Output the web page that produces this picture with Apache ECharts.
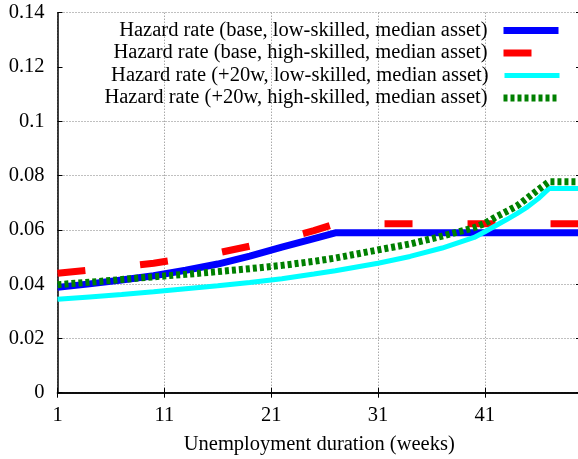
<!DOCTYPE html>
<html>
<head>
<meta charset="utf-8">
<script src="https://cdn.jsdelivr.net/npm/echarts@6/dist/echarts.min.js"></script>
<style>
  html, body { margin: 0; padding: 0; background: #fff; }
  #main { width: 578px; height: 459px; }
</style>
</head>
<body>
<div id="main"></div>
<script>
var weeks = [1, 4, 7, 10, 13, 16, 19, 22, 25, 27, 31, 34, 37, 40, 41, 42, 43, 44, 45, 46, 47, 50];

var baseLow = [0.0388, 0.0401, 0.0415, 0.0431, 0.0451, 0.0474, 0.0503, 0.0536, 0.0568, 0.0589,
  0.0589, 0.0589, 0.0589, 0.0589, 0.0589, 0.0589, 0.0589, 0.0589, 0.0589, 0.0589, 0.0589, 0.0589];
var baseHigh = [0.0440, 0.0452, 0.0464, 0.0477, 0.0495, 0.0515, 0.0540, 0.0566, 0.0597, 0.0622,
  0.0622, 0.0622, 0.0622, 0.0622, 0.0622, 0.0622, 0.0622, 0.0622, 0.0622, 0.0622, 0.0622, 0.0622];
var extLow = [0.0344, 0.0353, 0.0362, 0.0372, 0.0383, 0.0394, 0.0406, 0.0420, 0.0437, 0.0449,
  0.0477, 0.0502, 0.0533, 0.0572, 0.0593, 0.0615, 0.0637, 0.0660, 0.0685, 0.0715, 0.0752, 0.0752];
var extHigh = [0.0398, 0.0407, 0.0417, 0.0427, 0.0436, 0.0446, 0.0457, 0.0469, 0.0484, 0.0496,
  0.0526, 0.0548, 0.0577, 0.0608, 0.0624, 0.0647, 0.0667, 0.0688, 0.0718, 0.0748, 0.0777, 0.0777];

var names = [
  "Hazard rate (base, low-skilled, median asset)",
  "Hazard rate (base, high-skilled, median asset)",
  "Hazard rate (+20w, low-skilled, median asset)",
  "Hazard rate (+20w, high-skilled, median asset)"
];

var font = "Liberation Serif";
var fontSize = 20.5;

function pairs(vals) {
  return weeks.map(function (w, i) { return [w, vals[i]]; });
}

var styles = [
  { color: "#0000ff", width: 7, type: "solid" },
  { color: "#ff0000", width: 7, type: [28, 55] },
  { color: "#00ffff", width: 5, type: "solid" },
  { color: "#008000", width: 7, type: [4, 3] }
];
var rowCenters = [30, 52.5, 75, 97.5];

var myChart = echarts.init(document.getElementById("main"));

var legends = names.map(function (n, i) {
  return {
    data: [n],
    right: 16,
    top: rowCenters[i] - 10,
    padding: 0,
    align: "right",
    itemWidth: 55,
    itemHeight: 14,
    selectedMode: false,
    itemStyle: { opacity: 0 },
    lineStyle: { width: styles[i].width, type: styles[i].type, color: styles[i].color, cap: "butt" },
    textStyle: { fontFamily: font, fontSize: fontSize, color: "#000", padding: [0, 11, 0, 0] }
  };
});

var gridLine = { show: true, lineStyle: { color: "#808080", type: [1, 2], width: 1 } };

myChart.setOption({
  animation: false,
  legend: legends,
  grid: { left: 57.5, right: -3, top: 12.7, bottom: 66.3, outerBoundsMode: "none", containLabel: false },
  xAxis: [
    {
      type: "value",
      min: 1,
      max: 50,
      interval: 10,
      name: "Unemployment duration (weeks)",
      nameLocation: "middle",
      nameGap: 41,
      nameTextStyle: { fontFamily: font, fontSize: fontSize, color: "#000" },
      axisLine: { lineStyle: { color: "#000", width: 1.5 } },
      axisTick: { inside: true, length: 5, lineStyle: { color: "#000" } },
      axisLabel: { fontFamily: font, fontSize: fontSize, color: "#000", margin: 12, showMaxLabel: false },
      splitLine: gridLine
    },
    {
      type: "value",
      position: "top",
      min: 1,
      max: 50,
      interval: 10,
      axisLine: { show: true, lineStyle: { color: "#000", width: 1.5 } },
      axisTick: { show: true, inside: true, length: 5, lineStyle: { color: "#000" } },
      axisLabel: { show: false },
      splitLine: { show: false }
    }
  ],
  yAxis: [
    {
      type: "value",
      min: 0,
      max: 0.14,
      interval: 0.02,
      axisLine: { show: true, lineStyle: { color: "#000", width: 1.5 } },
      axisTick: { show: true, inside: true, length: 5, lineStyle: { color: "#000" } },
      axisLabel: {
        fontFamily: font, fontSize: fontSize, color: "#000", margin: 13,
        formatter: function (v) { return String(+v.toFixed(2)); }
      },
      splitLine: {
        show: true,
        // the key box hides the 0.12 line
        lineStyle: {
          color: ["#808080", "#808080", "#808080", "#808080", "#808080", "#808080", "rgba(0,0,0,0)", "#808080"],
          type: [1, 2], width: 1
        }
      }
    },
    {
      type: "value",
      position: "right",
      min: 0,
      max: 0.14,
      interval: 0.02,
      axisLine: { show: true, lineStyle: { color: "#000", width: 1.5 } },
      axisTick: { show: true, inside: true, length: 5, lineStyle: { color: "#000" } },
      axisLabel: { show: false },
      splitLine: { show: false }
    }
  ],
  series: [baseLow, baseHigh, extLow, extHigh].map(function (vals, i) {
    return {
      name: names[i],
      type: "line",
      data: pairs(vals),
      symbol: "none",
      color: styles[i].color,
      lineStyle: { color: styles[i].color, width: styles[i].width, type: styles[i].type, cap: "butt" },
      emphasis: { disabled: true }
    };
  })
});
</script>
</body>
</html>
